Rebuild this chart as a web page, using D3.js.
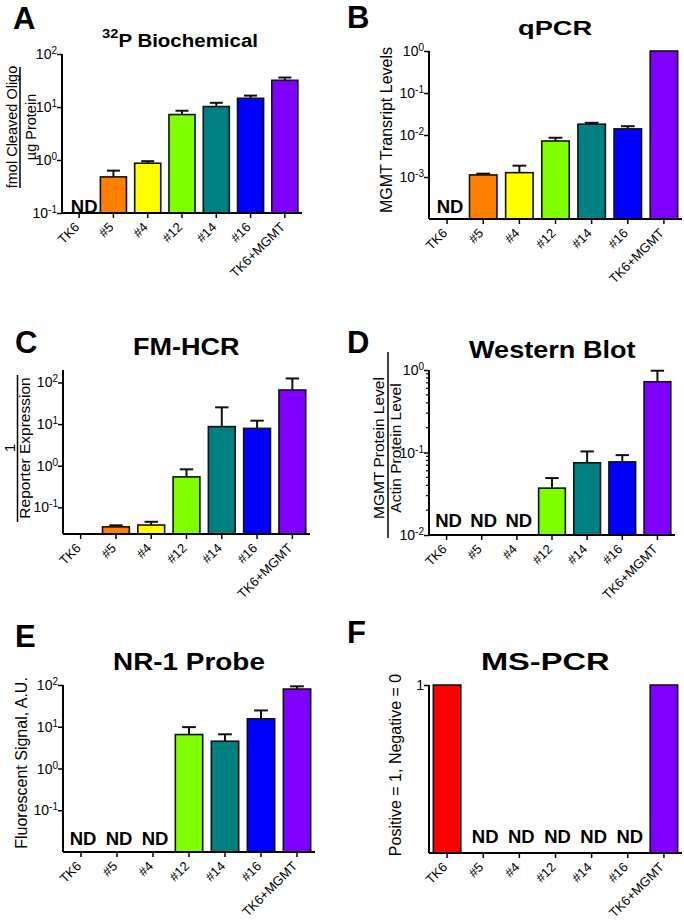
<!DOCTYPE html>
<html><head><meta charset="utf-8">
<script src="https://cdn.jsdelivr.net/npm/d3@7"></script>
<style>
body{margin:0;background:#fff}
svg{display:block}
text{font-family:"Liberation Sans",Arial,Helvetica,sans-serif;fill:#000}
</style>
</head><body>
<svg id="chart" width="684" height="920"></svg>
<script>
// ---------- DATA ----------
const categories = ["TK6", "#5", "#4", "#12", "#14", "#16", "TK6+MGMT"];
const barColors = ["#ff0000", "#ff8000", "#ffff00", "#80ff00", "#008080", "#0000ff", "#8000ff"];

// A: 32P Biochemical (fmol cleaved oligo / ug protein)
const biochemMean = [null, 0.48, 0.87, 7.2, 10.2, 14.6, 31.9];
const biochemErr  = [null, 0.15, 0.08, 1.3, 1.8, 1.8, 4.1];
const biochemND   = [true, false, false, false, false, false, false];
const biochemTicks = [0.1, 1, 10, 100];

// B: qPCR (MGMT transcript levels)
const qpcrMean = [null, 0.00112, 0.00127, 0.0072, 0.0181, 0.0140, 1.0];
const qpcrErr  = [null, 0.00008, 0.00059, 0.0014, 0.0014, 0.0022, 0];
const qpcrND   = [true, false, false, false, false, false, false];
const qpcrTicks = [0.001, 0.01, 0.1, 1];

// C: FM-HCR (1 / reporter expression)
const hcrMean = [null, 0.034, 0.0376, 0.54, 8.7, 7.9, 66];
const hcrErr  = [null, 0.003, 0.0074, 0.28, 16.6, 4.2, 59];
const hcrND   = [false, false, false, false, false, false, false];
const hcrTicks = [0.1, 1, 10, 100];

// D: Western Blot (MGMT / actin protein level)
const westernMean = [null, null, null, 0.037, 0.075, 0.077, 0.72];
const westernErr  = [null, null, null, 0.012, 0.028, 0.016, 0.26];
const westernND   = [true, true, true, false, false, false, false];
const westernTicks = [0.01, 0.1, 1];

// E: NR-1 Probe (fluorescent signal, A.U.)
const nr1Mean = [null, null, null, 6.5, 4.5, 15.5, 80];
const nr1Err  = [null, null, null, 3.3, 2.1, 9.1, 13];
const nr1ND   = [true, true, true, false, false, false, false];
const nr1Ticks = [0.1, 1, 10, 100];

// F: MS-PCR (positive = 1, negative = 0)
const mspcrValue = [1, null, null, null, null, null, 1];
const mspcrND    = [false, true, true, true, true, true, false];
const mspcrTicks = [1];

// ---------- DRAWING ----------
const svg = d3.select("#chart");

function fitText(sel, x0, x1, baseline) {
  const bb = sel.node().getBBox();
  const sx = (x1 - x0) / bb.width;
  sel.attr("transform", `translate(${x0 - bb.x * sx},${baseline}) scale(${sx},1)`);
}

function drawPanel(p) {
  const g = svg.append("g");
  // panel letter
  g.append("text").attr("x", p.letter[1]).attr("y", p.letter[2])
    .attr("font-size", 31).attr("font-weight", "bold").text(p.letter[0]);

  // title
  const t = g.append("text").attr("font-weight", "bold").attr("font-size", p.titleSize);
  if (p.titleSup) {
    t.append("tspan").attr("font-size", p.titleSize * 0.72).attr("dy", -p.titleSize * 0.45).text(p.titleSup);
    t.append("tspan").attr("dy", p.titleSize * 0.45).text(p.title);
  } else {
    t.text(p.title);
  }
  fitText(t, p.titleX[0], p.titleX[1], p.titleY);

  const x = d3.scaleBand().domain(categories).range([p.x0, p.x1])
    .paddingInner(0.24).paddingOuter(0.12);
  const y = (p.log ? d3.scaleLog() : d3.scaleLinear()).domain(p.domain).range([p.yBot, p.yTop]);

  // bars
  const idx = d3.range(categories.length).filter(i => p.means[i] != null);
  g.selectAll("rect.bar").data(idx).join("rect")
    .attr("x", i => x(categories[i]))
    .attr("width", x.bandwidth())
    .attr("y", i => y(p.means[i]))
    .attr("height", i => p.yBot - y(p.means[i]))
    .attr("fill", i => barColors[i])
    .attr("stroke", "#111").attr("stroke-width", 1.6);

  // error bars (upper only)
  if (p.errs) {
    const eIdx = idx.filter(i => p.errs[i] > 0);
    const cap = x.bandwidth() / 4;
    eIdx.forEach(i => {
      const cx = x(categories[i]) + x.bandwidth() / 2;
      const y0 = y(p.means[i]), y1 = y(p.means[i] + p.errs[i]);
      g.append("line").attr("x1", cx).attr("x2", cx).attr("y1", y0).attr("y2", y1)
        .attr("stroke", "#111").attr("stroke-width", 2);
      g.append("line").attr("x1", cx - cap).attr("x2", cx + cap).attr("y1", y1).attr("y2", y1)
        .attr("stroke", "#111").attr("stroke-width", 2);
    });
  }

  // ND labels
  d3.range(categories.length).filter(i => p.nd[i]).forEach(i => {
    g.append("text")
      .attr("x", x(categories[i]) + x.bandwidth() / 2 + p.ndDx)
      .attr("y", p.yBot + p.ndDy)
      .attr("text-anchor", "middle").attr("font-weight", "bold").attr("font-size", 18.5)
      .text("ND");
  });

  // x axis
  const xa = g.append("g").attr("transform", `translate(0,${p.yBot})`)
    .call(d3.axisBottom(x).tickSize(5).tickSizeOuter(0).tickFormat(""));
  xa.select(".domain").attr("stroke", "#000").attr("stroke-width", 2)
    .attr("d", `M${p.x0},0H${p.x1}`);
  xa.selectAll(".tick line").attr("stroke", "#000").attr("stroke-width", 1.5);
  categories.forEach(c => {
    const cx = x(c) + x.bandwidth() / 2;
    g.append("text").attr("text-anchor", "end").attr("font-size", 13)
      .attr("transform", `translate(${cx + 1},${p.yBot + 15}) rotate(-45)`)
      .text(c);
  });

  // y axis
  const ya = g.append("g").attr("transform", `translate(${p.x0},0)`)
    .call(d3.axisLeft(y).tickValues(p.ticks).tickSize(5).tickSizeOuter(0).tickFormat(""));
  ya.select(".domain").attr("stroke", "#000").attr("stroke-width", 2)
    .attr("d", `M0,${p.yTop}V${p.yBot}`);
  ya.selectAll(".tick line").attr("stroke", "#000").attr("stroke-width", 1.5);
  if (p.minor) {
    const mins = [];
    p.ticks.forEach(d => { for (let k = 2; k <= 9; k++) { const v = d * k; if (v < p.domain[1]) mins.push(v); } });
    mins.forEach(v => {
      g.append("line").attr("x1", p.x0 - 3).attr("x2", p.x0).attr("y1", y(v)).attr("y2", y(v))
        .attr("stroke", "#000").attr("stroke-width", 1.2);
    });
  }
  p.ticks.forEach(v => {
    const tt = g.append("text").attr("text-anchor", "end").attr("font-size", 14)
      .attr("x", p.x0 - 5).attr("y", y(v) + 5);
    if (p.log) {
      const e = Math.round(Math.log10(v));
      tt.append("tspan").text("10");
      tt.append("tspan").attr("font-size", 10).attr("dy", -5).text(e < 0 ? "-" + (-e) : String(e));
    } else {
      tt.text(String(v));
    }
  });

  // y labels
  p.ylabels.forEach(l => {
    g.append("text").attr("text-anchor", "middle").attr("font-size", l[3] || 16)
      .attr("transform", `translate(${l[1]},${l[2]}) rotate(-90)`).text(l[0]);
  });
  if (p.frac) {
    g.append("line").attr("x1", p.frac[0]).attr("x2", p.frac[0]).attr("y1", p.frac[1]).attr("y2", p.frac[2])
      .attr("stroke", "#000").attr("stroke-width", 1.5);
  }
}

const panels = [
  { letter: ["A", 13, 29], title: "P Biochemical", titleSup: "32", titleSize: 19, titleX: [102, 258], titleY: 46.5,
    x0: 62, x1: 302, yTop: 54, yBot: 213, domain: [0.1, 100], log: true, ticks: biochemTicks,
    means: biochemMean, errs: biochemErr, nd: biochemND, ndDx: 5, ndDy: 0,
    ylabels: [["fmol Cleaved Oligo", 17, 127, 14.5], ["\u00b5g Protein", 36, 127, 14.5]], frac: [20, 67, 188] },
  { letter: ["B", 347, 28], title: "qPCR", titleSize: 20, titleX: [518, 593], titleY: 35,
    x0: 429, x1: 682, yTop: 51, yBot: 219, domain: [0.0001, 1], log: true, ticks: qpcrTicks,
    means: qpcrMean, errs: qpcrErr, nd: qpcrND, ndDx: 3, ndDy: -6,
    ylabels: [["MGMT Transript Levels", 392, 130]] },
  { letter: ["C", 15, 353], title: "FM-HCR", titleSize: 23, titleX: [133, 240], titleY: 355,
    x0: 63, x1: 310, yTop: 370, yBot: 534, domain: [Math.pow(10, -1.64), Math.pow(10, 2.3)], log: true, ticks: hcrTicks,
    means: hcrMean, errs: hcrErr, nd: hcrND, ndDx: 0, ndDy: -7,
    ylabels: [["1", 15, 448, 15.5], ["Reporter Expression", 30, 448, 15.5]], frac: [17.5, 375, 522] },
  { letter: ["D", 347, 353], title: "Western Blot", titleSize: 23, titleX: [469, 636], titleY: 358,
    x0: 429, x1: 675, yTop: 370, yBot: 535, domain: [0.01, 1], log: true, ticks: westernTicks, minor: true,
    means: westernMean, errs: westernErr, nd: westernND, ndDx: 2, ndDy: -8,
    ylabels: [["MGMT Protein Level", 384, 448, 15.5], ["Actin Protein Level", 401, 448, 15.5]], frac: [388, 352, 538] },
  { letter: ["E", 15, 647], title: "NR-1 Probe", titleSize: 23, titleX: [113, 265], titleY: 670,
    x0: 63, x1: 315, yTop: 685, yBot: 852, domain: [0.01, 100], log: true, ticks: nr1Ticks,
    means: nr1Mean, errs: nr1Err, nd: nr1ND, ndDx: 2, ndDy: -7,
    ylabels: [["Fluorescent Signal, A.U.", 27, 763]] },
  { letter: ["F", 347, 643], title: "MS-PCR", titleSize: 23, titleX: [481, 610], titleY: 670,
    x0: 429, x1: 682, yTop: 685, yBot: 853, domain: [0, 1], log: false, ticks: mspcrTicks,
    means: mspcrValue, errs: null, nd: mspcrND, ndDx: 2, ndDy: -10,
    ylabels: [["Positive = 1, Negative = 0", 401, 765]] }
];

panels.forEach(drawPanel);
</script>
</body></html>
